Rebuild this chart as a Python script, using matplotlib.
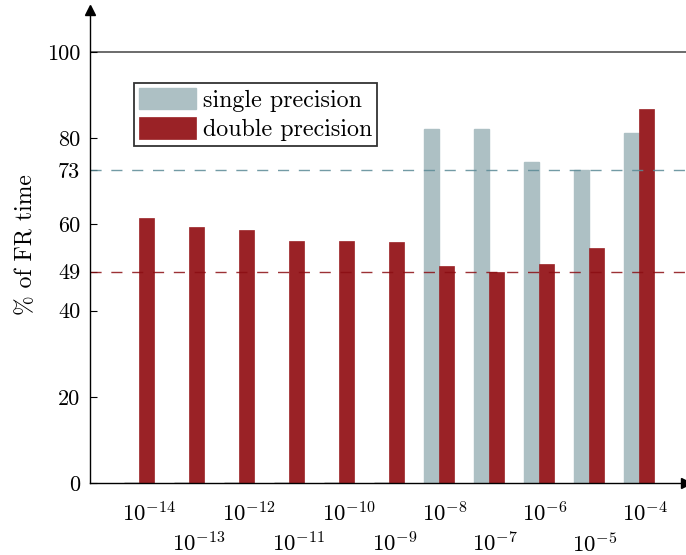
import matplotlib
matplotlib.use("Agg")
import matplotlib.pyplot as plt
import numpy as np

categories = ["$10^{-14}$", "$10^{-13}$", "$10^{-12}$", "$10^{-11}$", "$10^{-10}$", "$10^{-9}$",
              "$10^{-8}$", "$10^{-7}$", "$10^{-6}$", "$10^{-5}$", "$10^{-4}$"]
single_precision = [0, 0, 0, 0, 0, 0, 82.1, 82.1, 74.5, 72.6, 81.2]
double_precision = [61.5, 59.4, 58.7, 56.1, 56.1, 55.9, 50.3, 49.0, 50.8, 54.5, 86.8]
ytick_values = [0, 20, 40, 49, 60, 72.6, 80, 100]
ytick_labels = ["0", "20", "40", "49", "60", "73", "80", "100"]
ref_single = 72.6
ref_double = 49

plt.rcParams['mathtext.fontset'] = 'cm'
plt.rcParams['font.family'] = ['cmr10', 'DejaVu Serif']
plt.rcParams['axes.unicode_minus'] = False

grey = '#adc0c4'
red = '#9a2226'

fig = plt.figure(figsize=(6.86, 5.55), dpi=100)
ax = fig.add_axes([90/686, 72/555, 596/686, 473/555])

x = np.arange(len(categories))
w = 0.3
ax.bar(x - w/2, single_precision, width=w, color=grey,
       edgecolor=[grey if v > 0 else '#222222' for v in single_precision],
       linewidth=1.0, label='single precision', zorder=2)
ax.bar(x + w/2, double_precision, width=w, color=red, edgecolor=red, linewidth=0.5,
       label='double precision', zorder=2)

ax.axhline(100, color='#444444', linewidth=1.1, zorder=1)
ax.axhline(ref_single, color='#5b8a96', linewidth=1.0, dashes=(8, 7), alpha=0.85, zorder=3)
ax.axhline(ref_double, color='#8b0d12', linewidth=1.0, dashes=(8, 7), alpha=0.85, zorder=3)

ax.set_xlim(-0.98, 10.94)
ax.set_ylim(0, 109.7)

ax.set_yticks(ytick_values)
ax.set_yticklabels(ytick_labels, fontsize=16)
ax.tick_params(axis='y', direction='in', length=5, width=0.8, pad=7)

ax.set_xticks(x - 0.33)
ax.set_xticklabels(categories, fontsize=16.5, ha='left')
ax.tick_params(axis='x', length=0)
for i, t in enumerate(ax.xaxis.get_major_ticks()):
    t.set_pad(13 if i % 2 == 0 else 35)

for s in ['top', 'right']:
    ax.spines[s].set_visible(False)
ax.spines['left'].set_linewidth(1.0)
ax.spines['bottom'].set_linewidth(1.0)
ax.spines['left'].set_zorder(4)
ax.spines['bottom'].set_zorder(4)
ax.plot(0, 1, marker='^', color='black', markersize=7, transform=ax.transAxes, clip_on=False)
ax.plot(1, 0, marker='>', color='black', markersize=7, transform=ax.transAxes, clip_on=False)

ax.set_ylabel('% of FR time', fontsize=17)
ax.yaxis.set_label_coords(-0.088, 0.505)

leg = ax.legend(loc='upper left', bbox_to_anchor=(0.0738, 0.8457), fontsize=17.3,
                frameon=True, fancybox=False, handlelength=2.37, handleheight=1.0,
                borderpad=0.2, labelspacing=0.22, handletextpad=0.3, borderaxespad=0)
leg.get_frame().set_edgecolor('black')
leg.get_frame().set_linewidth(1.3)
for h in leg.legend_handles:
    h.set_edgecolor(h.get_facecolor())

fig.savefig('out.png', dpi=100)
